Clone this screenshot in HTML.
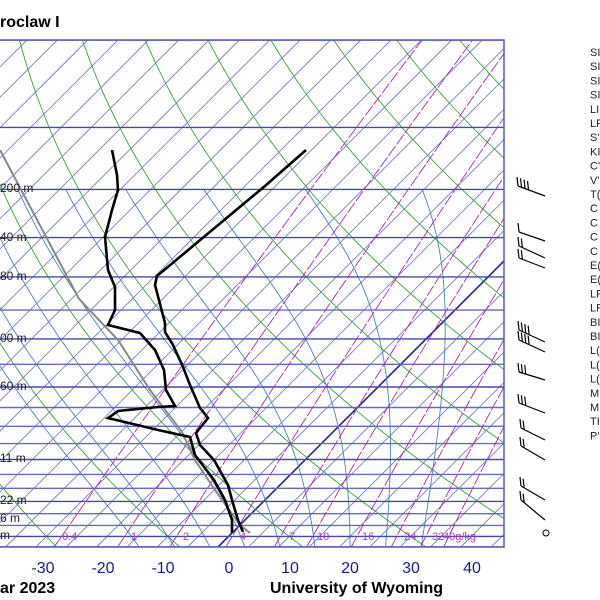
<!DOCTYPE html>
<html><head><meta charset="utf-8"><style>
html,body{margin:0;padding:0;background:#fff;width:600px;height:600px;overflow:hidden}
svg{position:absolute;left:0;top:0}
text{font-family:"Liberation Sans",sans-serif}
</style></head><body>
<svg id="s" width="600" height="600" xmlns="http://www.w3.org/2000/svg">
<defs><clipPath id="c"><rect x="0" y="40" width="504" height="507"/></clipPath></defs>
<g id="g" clip-path="url(#c)"></g>
<rect x="-2" y="40" width="506" height="507" fill="none" stroke="#5858b8" stroke-width="1.5"/>
<text x="0" y="27" font-size="16" font-weight="bold">roclaw I</text>
<g font-size="16" fill="#1a1a8c" text-anchor="middle">
<text x="43" y="573">-30</text><text x="103" y="573">-20</text><text x="163" y="573">-10</text><text x="229" y="573">0</text><text x="290" y="573">10</text><text x="350" y="573">20</text><text x="411" y="573">30</text><text x="472" y="573">40</text>
</g>
<text x="0" y="593" font-size="16" font-weight="bold">ar 2023</text>
<text x="270" y="593" font-size="16" font-weight="bold">University of Wyoming</text>
<g id="lab" font-size="12" fill="#222"></g>
<g id="mr" font-size="11" fill="#b040b0"></g>
<g id="rt" font-size="11" fill="#222"></g>
<g id="wb" stroke="#000" stroke-width="1.2" fill="none"></g>
<circle cx="546" cy="533" r="3" fill="none" stroke="#000"/>
</svg>
<script>
const NS="http://www.w3.org/2000/svg",g=document.getElementById('g');
function el(par,tag,a,txt){const e=document.createElementNS(NS,tag);for(const k in a)e.setAttribute(k,a[k]);if(txt!==undefined)e.textContent=txt;par.appendChild(e);return e;}
const Y=p=>40+215.6*Math.log(p/100);
const X=(T,p)=>229+6.07*T+(536-Y(p));
function pl(pts,st,w,dash){el(g,'polyline',{points:pts.map(q=>q[0].toFixed(1)+','+q[1].toFixed(1)).join(' '),fill:'none',stroke:st,'stroke-width':w||1,'stroke-dasharray':dash||''});}
// isotherms
for(let T=-120;T<=50;T+=5){pl([[X(T,1050),Y(1050)],[X(T,100),Y(100)]],T==0?'#2020a0':'#7a7ac8',T==0?1.6:0.9);}
// dry adiabats
for(let th=-30;th<=250;th+=20){let pts=[];for(let p=1050;p>=100;p-=10){const T=(th+273.15)*Math.pow(p/1000,0.286)-273.15;pts.push([X(T,p),Y(p)]);}pl(pts,'#3aa03a',0.9);}
// moist adiabats
function es(T){return 6.112*Math.exp(17.67*T/(T+243.5));}
function dT(T,q){const Tk=T+273.15,rs=0.622*es(T)/(q-es(T));return (287*Tk+2.5e6*rs)/(1005+2.5e6*2.5e6*rs*0.622/(287*Tk*Tk))/q;}
for(let tw=-16;tw<=36;tw+=6){let T=tw;for(let q=1000;q<1050;q+=1){T+=dT(T,q);}
 let p=1050,pts=[];
 while(p>=200){pts.push([X(T,p),Y(p)]);for(let i=0;i<5;i++){T-=dT(T,p);p-=1;}}
 pl(pts,'#4a80b8',0.9);}
// isobars
[100,150,200,250,300,350,400,450,500,550,600,650,700,750,800,850,900,950,1000,1050].forEach(p=>{pl([[0,Y(p)],[504,Y(p)]],([100,150,200,250,300,400,500,700,850,1000].includes(p))?'#4848a8':'#6868c0',1.4);});
// mixing ratio
const mrs=[0.4,1,2,4,7,10,16,24,32,40];
mrs.forEach(w=>{let pts=[];for(let p=1050;p>=100;p-=25){const e=w*p/(622+w),l=Math.log(e/6.112),Td=243.5*l/(17.67-l);pts.push([X(Td,p),Y(p)]);}pl(pts,'#a828b0',0.9,'12,2');});
const mrl=[["0.4",62],["1",131],["2",183],["4",240],["7",289],["10",317],["16",362],["24",404],["32",432],["40g/kg",443]];
mrl.forEach(m=>el(document.getElementById('mr'),'text',{x:m[1],y:540},m[0]));
// height labels
[["200 m",192],["40 m",241],["80 m",280],["00 m",342],["60 m",390],["11 m",462],["22 m",504],["6 m",522],["m",539]].forEach(l=>el(document.getElementById('lab'),'text',{x:0,y:l[1]},l[0]));
// right text
const rl=["SI","SI","SI","SI","LI","LF","S'","KI","C'","V'","T(","C","C","C","C","E(","E(","LF","LF","BI","BI","L(","L(","L(","M","M","TI","P'"];
rl.forEach((t,i)=>el(document.getElementById('rt'),'text',{x:590,y:56+i*14.2},t));
// sounding
const gg=[[250,533],[240,525],[215,490],[195,460],[182,432],[150,390],[118,340],[80,300],[78,297],[0,150]];
pl(gg,'#888',2);
const tt=[[243,532],[238,520],[232,500],[228,485],[214,460],[200,445],[196,433],[208,418],[200,408],[190,385],[183,367],[173,345],[165,332],[165,323],[155,285],[157,276],[265,186],[306,150]];
pl(tt,'#000',2.6);
const dd=[[232,533],[232,520],[225,500],[214,480],[195,455],[190,437],[158,430],[108,418],[118,411],[158,407],[175,406],[166,390],[164,370],[155,350],[140,333],[108,325],[115,310],[115,287],[108,270],[105,237],[112,210],[118,190],[117,175],[112,150]];
pl(dd,'#000',2.6);
const wb=document.getElementById('wb');
function barb(y,n,sx,sy){const x0=545,y0=y,x1=x0-sx,y1=y0-sy;el(wb,'line',{x1:x0,y1:y0,x2:x1,y2:y1});
 for(let i=0;i<n;i++){const f=i*0.13,x=x1+(x0-x1)*f,yy=y1+(y0-y1)*f;el(wb,'line',{x1:x,y1:yy,x2:x-1,y2:yy-9});}}
[[196,4,27,10],[241,1,26,9],[258,2,26,12],[268,2,26,10],[342,4,26,12],[352,4,26,12],[380,3,26,8],[413,3,26,10],[440,2,24,12],[460,2,24,14],[500,2,24,14],[520,2,24,20]].forEach(b=>barb(b[0],b[1],b[2],b[3]));
</script>
</body></html>
